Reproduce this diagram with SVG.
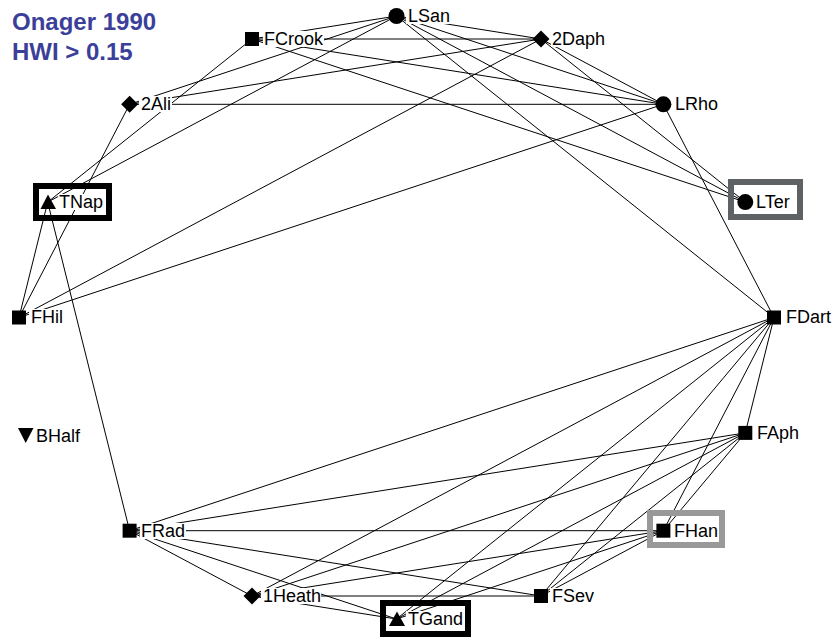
<svg xmlns="http://www.w3.org/2000/svg" width="834" height="640" viewBox="0 0 834 640">
<style>
.e{stroke:#000;stroke-width:1;fill:none}
.n{fill:#000}
.lb{font-family:"Liberation Sans",Arial,sans-serif;font-size:18px;fill:#000}
.bg{fill:#fff}
.t{font-family:"Liberation Sans",Arial,sans-serif;font-size:24px;font-weight:bold;fill:#3c3f99}
.box{fill:none;stroke-width:6}
</style>
<rect width="834" height="640" fill="#fff"/>
<g id="title">
<text class="t" x="12" y="30">Onager 1990</text>
<text class="t" x="12" y="60">HWI &gt; 0.15</text>
</g>
<g id="connectors">
<line class="e" x1="252" y1="39" x2="541" y2="39"/>
<line class="e" x1="252" y1="39" x2="396.5" y2="16"/>
<line class="e" x1="252" y1="39" x2="663.4" y2="104.3"/>
<line class="e" x1="252" y1="39" x2="47.7" y2="202.1"/>
<line class="e" x1="252" y1="39" x2="745.3" y2="202.1"/>
<line class="e" x1="396.5" y1="16" x2="541" y2="39"/>
<line class="e" x1="396.5" y1="16" x2="129.6" y2="104.3"/>
<line class="e" x1="396.5" y1="16" x2="47.7" y2="202.1"/>
<line class="e" x1="396.5" y1="16" x2="663.4" y2="104.3"/>
<line class="e" x1="396.5" y1="16" x2="745.3" y2="202.1"/>
<line class="e" x1="396.5" y1="16" x2="774" y2="317.5"/>
<line class="e" x1="541" y1="39" x2="129.6" y2="104.3"/>
<line class="e" x1="541" y1="39" x2="663.4" y2="104.3"/>
<line class="e" x1="541" y1="39" x2="745.3" y2="202.1"/>
<line class="e" x1="541" y1="39" x2="19" y2="317.5"/>
<line class="e" x1="129.6" y1="104.3" x2="663.4" y2="104.3"/>
<line class="e" x1="129.6" y1="104.3" x2="19" y2="317.5"/>
<line class="e" x1="663.4" y1="104.3" x2="19" y2="317.5"/>
<line class="e" x1="663.4" y1="104.3" x2="774" y2="317.5"/>
<line class="e" x1="47.7" y1="202.1" x2="19" y2="317.5"/>
<line class="e" x1="47.7" y1="202.1" x2="129.6" y2="530.7"/>
<line class="e" x1="774" y1="317.5" x2="129.6" y2="530.7"/>
<line class="e" x1="774" y1="317.5" x2="252" y2="596"/>
<line class="e" x1="774" y1="317.5" x2="396.5" y2="619"/>
<line class="e" x1="774" y1="317.5" x2="541" y2="596"/>
<line class="e" x1="774" y1="317.5" x2="663.4" y2="530.7"/>
<line class="e" x1="774" y1="317.5" x2="745.3" y2="432.9"/>
<line class="e" x1="745.3" y1="432.9" x2="129.6" y2="530.7"/>
<line class="e" x1="745.3" y1="432.9" x2="252" y2="596"/>
<line class="e" x1="745.3" y1="432.9" x2="396.5" y2="619"/>
<line class="e" x1="745.3" y1="432.9" x2="541" y2="596"/>
<line class="e" x1="745.3" y1="432.9" x2="663.4" y2="530.7"/>
<line class="e" x1="663.4" y1="530.7" x2="129.6" y2="530.7"/>
<line class="e" x1="663.4" y1="530.7" x2="252" y2="596"/>
<line class="e" x1="663.4" y1="530.7" x2="396.5" y2="619"/>
<line class="e" x1="663.4" y1="530.7" x2="541" y2="596"/>
<line class="e" x1="129.6" y1="530.7" x2="252" y2="596"/>
<line class="e" x1="129.6" y1="530.7" x2="396.5" y2="619"/>
<line class="e" x1="129.6" y1="530.7" x2="541" y2="596"/>
<line class="e" x1="252" y1="596" x2="396.5" y2="619"/>
<line class="e" x1="252" y1="596" x2="541" y2="596"/>
</g>
<g id="LSan"><rect class="bg" x="406" y="8" width="43" height="16"/><circle class="n" cx="396.5" cy="16" r="8"/><text class="lb" x="408" y="22">LSan</text></g>
<g id="n2Daph"><rect class="bg" x="551" y="31" width="55" height="16"/><polygon class="n" points="541,30.5 549.5,39 541,47.5 532.5,39"/><text class="lb" x="552" y="45">2Daph</text></g>
<g id="FCrook"><rect class="bg" x="263" y="31" width="61" height="16"/><rect class="n" x="245" y="32" width="14" height="14"/><text class="lb" x="264" y="45">FCrook</text></g>
<g id="n2Ali"><rect class="bg" x="139" y="96" width="33" height="16"/><polygon class="n" points="129.6,95.8 138.1,104.3 129.6,112.8 121.1,104.3"/><text class="lb" x="141" y="110">2Ali</text></g>
<g id="LRho"><rect class="bg" x="673" y="96" width="46" height="16"/><circle class="n" cx="663.4" cy="104.3" r="8"/><text class="lb" x="675" y="110">LRho</text></g>
<g id="TNap"><rect class="bg" x="58" y="194" width="46" height="16"/><polygon class="n" points="48,194.5 40.5,209 56,209"/><text class="lb" x="59" y="208">TNap</text><rect class="box" x="36" y="186" width="73" height="32" stroke="#000"/></g>
<g id="LTer"><rect class="bg" x="755" y="194" width="40" height="16"/><circle class="n" cx="745.3" cy="202.1" r="8"/><text class="lb" x="756" y="208">LTer</text><rect class="box" x="731" y="182" width="69" height="35" stroke="#5f6265"/></g>
<g id="FHil"><rect class="bg" x="29" y="309" width="35" height="16"/><rect class="n" x="12" y="310.5" width="14" height="14"/><text class="lb" x="31" y="323">FHil</text></g>
<g id="FDart"><rect class="bg" x="784" y="309" width="48" height="16"/><rect class="n" x="767" y="310.5" width="14" height="14"/><text class="lb" x="786" y="323">FDart</text></g>
<g id="BHalf"><polygon class="n" points="18,428 33.5,428 25.7,443"/><text class="lb" x="36" y="442">BHalf</text></g>
<g id="FAph"><rect class="bg" x="755" y="425" width="46" height="16"/><rect class="n" x="738.3" y="425.9" width="14" height="14"/><text class="lb" x="757" y="439">FAph</text></g>
<g id="FHan"><rect class="bg" x="673" y="523" width="46" height="16"/><rect class="n" x="656.4" y="523.7" width="14" height="14"/><text class="lb" x="674" y="537">FHan</text><rect class="box" x="650" y="513" width="72" height="32" stroke="#999"/></g>
<g id="FSev"><rect class="bg" x="550" y="588" width="45" height="16"/><rect class="n" x="534" y="589" width="14" height="14"/><text class="lb" x="552" y="602">FSev</text></g>
<g id="TGand"><rect class="bg" x="406" y="611" width="58" height="16"/><polygon class="n" points="397,611.5 389,626 405,626"/><text class="lb" x="408" y="625">TGand</text><rect class="box" x="383" y="603" width="85" height="31" stroke="#000"/></g>
<g id="n1Heath"><rect class="bg" x="261" y="588" width="60" height="16"/><polygon class="n" points="252,587.5 260.5,596 252,604.5 243.5,596"/><text class="lb" x="263" y="602">1Heath</text></g>
<g id="FRad"><rect class="bg" x="140" y="523" width="46" height="16"/><rect class="n" x="122.6" y="523.7" width="14" height="14"/><text class="lb" x="141" y="537">FRad</text></g>
</svg>
